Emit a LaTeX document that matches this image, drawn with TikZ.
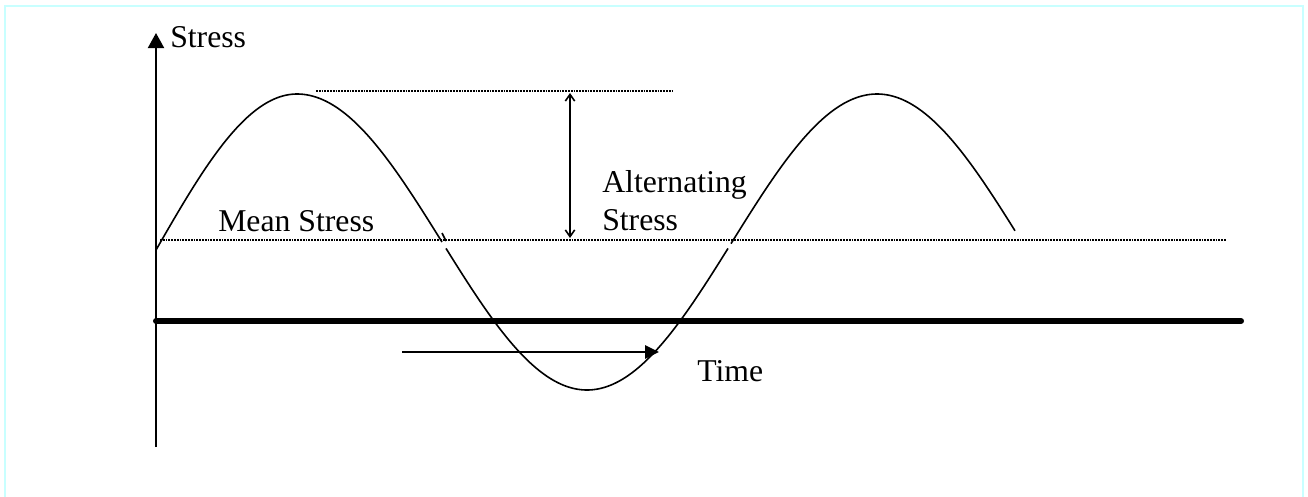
\documentclass[tikz,border=0pt]{standalone}
\usepackage{fontspec}
\setmainfont{Liberation Serif}
\usetikzlibrary{arrows.meta}
\definecolor{framecyan}{RGB}{200,255,255}
\tikzset{
  lbl/.style={anchor=base west, inner sep=0pt, font=\fontsize{23.8}{28}\selectfont},
  axisline/.style={line width=1.5pt},
  wave/.style={line width=1.2pt},
  dotline/.style={line width=1.3pt, dash pattern=on 1.4pt off 0.7pt},
  baseline/.style={line width=4.5pt, line cap=round},
}
\begin{document}
\begin{tikzpicture}[x=0.75pt,y=-0.75pt]
\useasboundingbox (0,0) rectangle (1308,496);
% frame
\draw[framecyan, line width=1.5pt] (5,505) -- (5,6) -- (1303,6) -- (1303,505);
% coordinates
\coordinate (ybot) at (156,447);
\coordinate (ytop) at (156,33);
\coordinate (bl) at (156,321);
\coordinate (br) at (1241,321);
\coordinate (ml) at (160,240);
\coordinate (mr) at (1226,240);
\coordinate (tl) at (316,91);
\coordinate (tr) at (672,91);
\coordinate (aa) at (570,93);
\coordinate (ab) at (570,238);
\coordinate (ta) at (402,352);
\coordinate (tb) at (659,352);
% axes
\draw[axisline, -{Triangle[length=11.25pt,width=12pt]}] (ybot) -- (ytop);
\draw[baseline] (bl) -- (br);
% dotted lines
\draw[dotline] (ml) -- (mr);
\draw[dotline] (tl) -- (tr);
% alternating arrow
\draw[line width=1.2pt, {Straight Barb[length=5pt,width=7pt]}-{Straight Barb[length=5pt,width=7pt]}] (aa) -- (ab);
% time arrow
\draw[axisline, -{Triangle[length=10.5pt,width=10pt]}] (ta) -- (tb);
% wave
\draw[wave] plot[domain=156:297, samples=60] (\x, {250-156*sin((\x-156)/141*90)});
\draw[wave] plot[domain=297:442, samples=60] (\x, {242-148*cos((\x-297)/290*180)});
\draw[wave] (442,233) -- (446,241);
\draw[wave] plot[domain=446:587, samples=60] (\x, {242-148*cos((\x-297)/290*180)});
\draw[wave] plot[domain=587:728, samples=60] (\x, {242+148*cos((\x-587)/290*180)});
\draw[wave] plot[domain=731:877, samples=60] (\x, {242+148*cos((\x-587)/290*180)});
\draw[wave] plot[domain=877:1015, samples=60] (\x, {242-148*cos((\x-877)/290*180)});
% labels
\node[lbl] (stress) at (170,47) {Stress};
\node[lbl] (mean) at (218,231) {Mean Stress};
\node[lbl] (alt1) at (602,192) {Alternating};
\node[lbl] (alt2) at (602,230) {Stress};
\node[lbl] (time) at (697,381) {Time};
\end{tikzpicture}
\end{document}
